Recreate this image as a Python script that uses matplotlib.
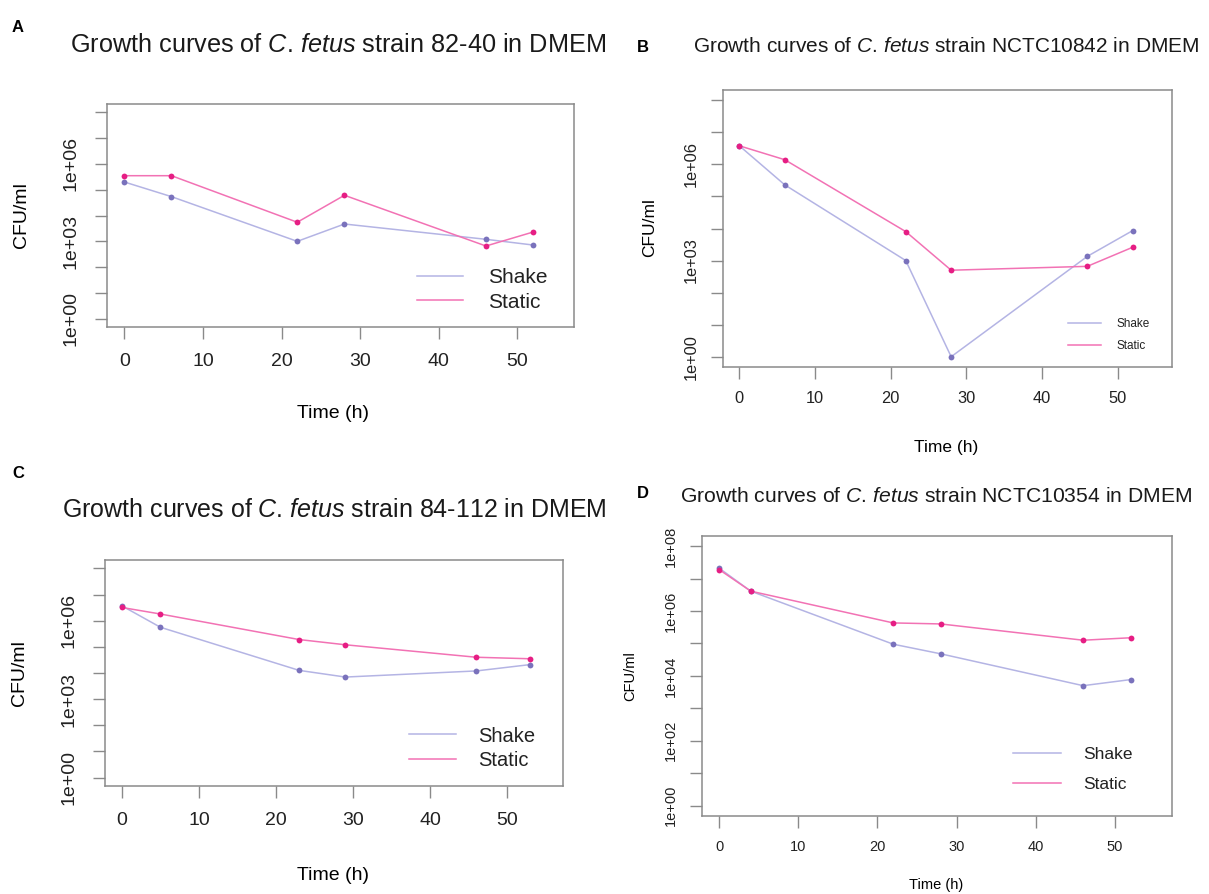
import numpy as np
import matplotlib
matplotlib.use("Agg")
import matplotlib.pyplot as plt

plt.rcParams['font.family'] = ['Liberation Sans', 'DejaVu Sans']
plt.rcParams['mathtext.fontset'] = 'custom'
plt.rcParams['mathtext.rm'] = 'Liberation Sans'
plt.rcParams['mathtext.it'] = 'Liberation Sans:italic'

# 数据 (CFU/ml)
time_a = [0, 6, 22, 28, 46, 52]
shake_a = [2.0e5, 5.4e4, 1.0e3, 4.7e3, 1.2e3, 7.2e2]
static_a = [3.5e5, 3.5e5, 5.5e3, 6.1e4, 6.6e2, 2.3e3]

time_b = [0, 6, 22, 28, 46, 52]
shake_b = [3.8e6, 2.3e5, 1.0e3, 1.0, 1.35e3, 8.6e3]
static_b = [3.8e6, 1.4e6, 8.0e3, 5.0e2, 6.6e2, 2.6e3]

time_c = [0, 5, 23, 29, 46, 53]
shake_c = [3.7e6, 5.6e5, 1.26e4, 7.0e3, 1.2e4, 2.1e4]
static_c = [3.2e6, 1.8e6, 1.9e5, 1.2e5, 4.0e4, 3.5e4]

time_d = [0, 4, 22, 28, 46, 52]
shake_d = [2.1e7, 4.1e6, 9.5e4, 4.8e4, 5.0e3, 7.7e3]
static_d = [1.9e7, 4.1e6, 4.3e5, 4.0e5, 1.26e5, 1.5e5]

series_names = ["Shake", "Static"]
x_ticks = [0, 10, 20, 30, 40, 50]

SHAKE_LINE, SHAKE_PT = "#b4b4e4", "#7a72bc"
STATIC_LINE, STATIC_PT = "#f272b4", "#e61e84"
BOX = "#8a8a8a"


def panel(fig, rect, t, shake, static, title, letter, tpos, lpos, fs,
          ylabs, xl_pos, yl_pos, leg, pads):
    # fs = (title, tick, label, legend)
    ax = fig.add_axes(rect)
    ax.plot(t, shake, color=SHAKE_LINE, lw=1.1, label=series_names[0])
    ax.plot(t, static, color=STATIC_LINE, lw=1.1, label=series_names[1])
    ax.plot(t, shake, 'o', color=SHAKE_PT, ms=4.2, mec='none')
    ax.plot(t, static, 'o', color=STATIC_PT, ms=4.2, mec='none')
    ax.set_yscale('log')
    ax.set_ylim(10 ** -0.32, 10 ** 8.32)
    ax.set_xlim(-2.2, 57.2)
    ax.set_xticks(x_ticks)
    ax.set_xticklabels([str(v) for v in x_ticks])
    decades = list(range(9))
    ax.set_yticks([10.0 ** d for d in decades])
    ax.set_yticklabels(["1e+%02d" % d if d in ylabs else "" for d in decades])
    ax.yaxis.set_minor_locator(matplotlib.ticker.NullLocator())
    for s in ax.spines.values():
        s.set_color(BOX)
        s.set_linewidth(1.1)
    ax.tick_params(direction='out', length=8.5, width=1.0, color=BOX,
                   labelsize=fs[1], labelcolor='#222222')
    ax.tick_params(axis='x', pad=pads[0])
    ax.tick_params(axis='y', labelrotation=90, pad=pads[1])
    for lab in ax.get_yticklabels():
        lab.set_va('center')
    ax.set_xlabel("Time (h)", fontsize=fs[2], va='center')
    ax.set_ylabel("CFU/ml", fontsize=fs[2], va='center')
    ax.xaxis.set_label_coords(*xl_pos)
    ax.yaxis.set_label_coords(*yl_pos)
    lg = ax.legend(loc='center left', bbox_to_anchor=leg[0], frameon=False,
                   fontsize=fs[3], handlelength=leg[1], handletextpad=leg[2],
                   labelspacing=leg[3], borderpad=0, borderaxespad=0)
    for txt in lg.get_texts():
        txt.set_color('#222222')
    W, H = 1209.0, 894.0
    # 标点放在mathtext外面, 否则"C."后面多一个空格
    fig.text(tpos[0] / W, 1 - tpos[1] / H,
             "Growth curves of $\\mathit{C}$. $\\mathit{fetus}$ " + title,
             fontsize=fs[0], ha='center', va='center', color='#1a1a1a')
    fig.text(lpos[0] / W, 1 - lpos[1] / H, letter, fontsize=12,
             fontweight='bold', ha='center', va='center')
    return ax


fig = plt.figure(figsize=(12.09, 8.94), dpi=100)

panel(fig, [0.0885, 0.6342, 0.3863, 0.2494], time_a, shake_a, static_a,
      "strain 82-40 in DMEM", "A", (338, 45), (18, 27), (18.2, 14, 14, 15),
      [0, 3, 6], (0.484, -0.386), (-0.182, 0.502), ((0.664, 0.166), 2.2, 1.2, 0.25),
      (10.5, 11))
panel(fig, [0.5978, 0.5895, 0.3716, 0.3098], time_b, shake_b, static_b,
      "strain NCTC10842 in DMEM", "B", (946, 47), (643, 47), (15, 11.8, 12.5, 8.5),
      [0, 3, 6], (0.497, -0.289), (-0.162, 0.502), ((0.769, 0.114), 2.75, 1.3, 0.85),
      (9, 8.5))
panel(fig, [0.0868, 0.1208, 0.3786, 0.2528], time_c, shake_c, static_c,
      "strain 84-112 in DMEM", "C", (334, 510), (18, 474), (18, 14, 14, 14.5),
      [0, 3, 6], (0.498, -0.398), (-0.186, 0.5), ((0.664, 0.168), 2.36, 1.08, 0.25),
      (10, 11))
panel(fig, [0.5804, 0.0872, 0.3888, 0.3135], time_d, shake_d, static_d,
      "strain NCTC10354 in DMEM", "D", (936, 496), (643, 493), (15.2, 10.5, 10.5, 12.5),
      [0, 2, 4, 6, 8], (0.498, -0.246), (-0.153, 0.5), ((0.662, 0.166), 2.8, 1.26, 0.85),
      (9, 9))

fig.savefig("out.png", dpi=100)
